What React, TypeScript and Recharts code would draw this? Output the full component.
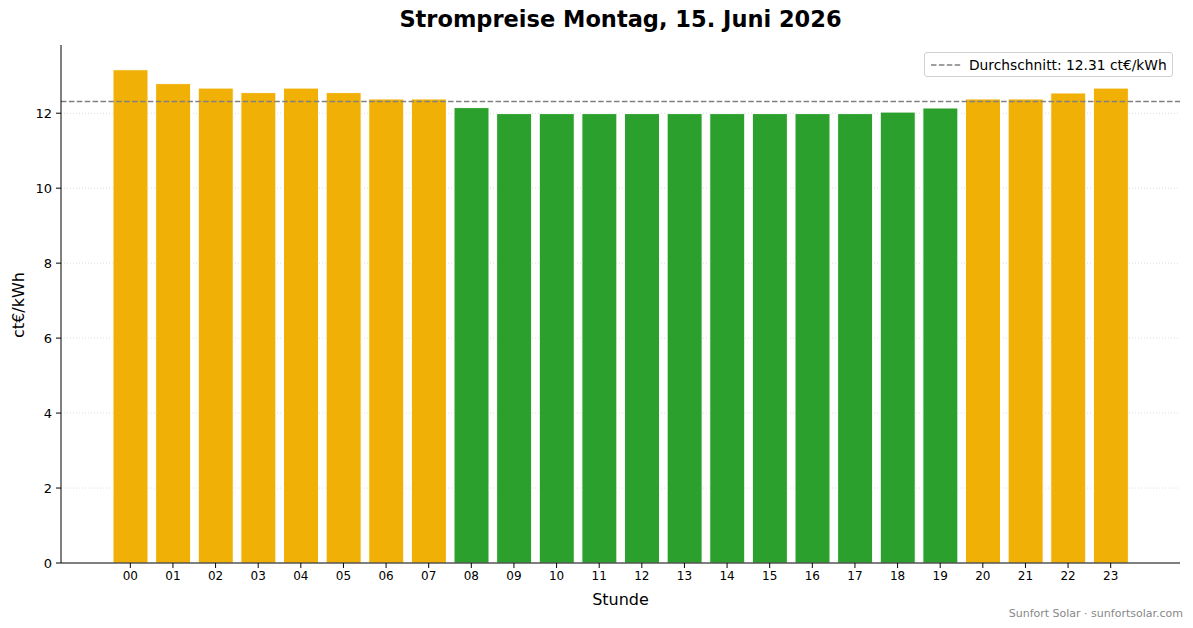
import React from "react";
import { BarChart, Bar, Cell, XAxis, YAxis, CartesianGrid, ReferenceLine } from "recharts";

// Stündliche Strompreise (ct€/kWh)
const hours = ["00", "01", "02", "03", "04", "05", "06", "07", "08", "09", "10", "11",
  "12", "13", "14", "15", "16", "17", "18", "19", "20", "21", "22", "23"];
const prices = [13.16, 12.79, 12.67, 12.55, 12.67, 12.55, 12.38, 12.38, 12.15, 11.99, 11.99, 11.99,
  11.99, 11.99, 11.99, 11.99, 11.99, 11.99, 12.03, 12.14, 12.38, 12.38, 12.54, 12.67];
const average = 12.31;
const yTicks = [0, 2, 4, 6, 8, 10, 12];
const yMax = 13.82;

const ORANGE = "#f0b005";
const GREEN = "#2ca02c";
const FONT = "'DejaVu Sans', sans-serif";

const data = hours.map((h, i) => ({ hour: h, price: prices[i] }));

// grid only at the labelled ticks (no line at the top edge)
const gridRows = ({ offset }: any) =>
  yTicks.slice(1).map((t) => offset.top + offset.height * (1 - t / yMax));

export default function App() {
  return (
    <div style={{ position: "absolute", left: 0, top: 0, width: 1193, height: 628, background: "#fff", fontFamily: FONT }}>
      <BarChart width={1193} height={628} data={data} margin={{ top: 45, right: 13, left: 11, bottom: 35 }}>
        <CartesianGrid vertical={false} stroke="#dcdcdc" strokeDasharray="1 2" horizontalCoordinatesGenerator={gridRows} />
        <XAxis
          dataKey="hour"
          height={30}
          padding={{ left: 48, right: 48 }}
          axisLine={false}
          stroke="#000"
          tickSize={5}
          tickMargin={3}
          tick={{ fontSize: 12, fill: "#000", fontFamily: FONT }}
          interval={0}
        />
        <YAxis
          width={50}
          domain={[0, yMax]}
          ticks={yTicks}
          allowDataOverflow
          stroke="#000"
          tickSize={5}
          tickMargin={4}
          tick={{ fontSize: 13, fill: "#000", fontFamily: FONT }}
        />
        <Bar dataKey="price" barSize={35} isAnimationActive={false}>
          {data.map((d) => (
            <Cell key={d.hour} fill={d.price > average ? ORANGE : GREEN} stroke="#fff" strokeWidth={1} />
          ))}
        </Bar>
        <ReferenceLine y={0} stroke="#000" strokeWidth={1.2} />
        <ReferenceLine y={average} stroke="#808080" strokeWidth={1.5} strokeDasharray="5.5 2.4" />
      </BarChart>

      <div style={{ position: "absolute", left: 61, width: 1119, top: 6, textAlign: "center", fontSize: 22.5, fontWeight: "bold" }}>
        Strompreise Montag, 15. Juni 2026
      </div>
      <div style={{ position: "absolute", left: 61, width: 1119, top: 590, textAlign: "center", fontSize: 16 }}>
        Stunde
      </div>
      <div style={{ position: "absolute", left: 18, top: 305, transform: "translate(-50%, -50%) rotate(-90deg)", fontSize: 16, whiteSpace: "nowrap" }}>
        ct€/kWh
      </div>
      <div style={{ position: "absolute", right: 10, top: 607, fontSize: 11, color: "#888" }}>
        Sunfort Solar · sunfortsolar.com
      </div>
      <div style={{ position: "absolute", left: 924, top: 52, width: 247, height: 23, border: "1px solid #d0d0d0", borderRadius: 3, background: "rgba(255,255,255,0.8)", display: "flex", alignItems: "center" }}>
        <svg width={36} height={10} style={{ marginLeft: 5 }}>
          <line x1={1} y1={5} x2={31} y2={5} stroke="#808080" strokeWidth={1.5} strokeDasharray="5.5 2.4" />
        </svg>
        <span style={{ fontSize: 13.8, marginLeft: 3, whiteSpace: "nowrap" }}>Durchschnitt: 12.31 ct€/kWh</span>
      </div>
    </div>
  );
}
